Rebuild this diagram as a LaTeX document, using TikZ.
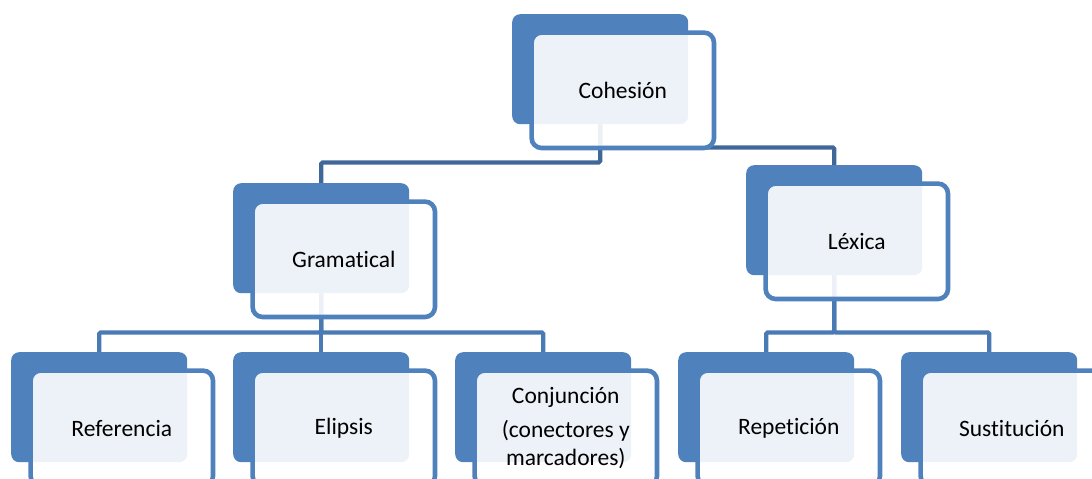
\documentclass[tikz,border=0pt]{standalone}
\usepackage{fontspec}
\setmainfont{Carlito}[Ligatures=NoCommon]
\usetikzlibrary{backgrounds}
\definecolor{accent}{HTML}{4F81BD}
\definecolor{conA}{HTML}{3F6899}
\definecolor{conB}{HTML}{4A7AB3}
\tikzset{
  backbox/.style={fill=accent, draw=none, rounded corners=8pt, minimum width=176pt,
    minimum height=110pt, anchor=north west, inner sep=0pt},
  frontbox/.style={fill=white, fill opacity=0.9, draw=accent, draw opacity=1,
    line width=4.6pt, rounded corners=10pt, minimum width=182.4pt,
    minimum height=115.4pt, anchor=north west, inner sep=0pt},
  lbl/.style={align=center, inner sep=0pt, font=\fontsize{23.5}{28}\selectfont},
  conn/.style={line width=4.2pt, rounded corners=1.5pt},
}
\newcommand\smartel[5]{%
  \node[backbox] (#1) at (#2,#3) {};
  \node[frontbox] (#1F) at (#2+17.3,#3+16.3) {};
  \node[lbl] (#1T) at ([xshift=#5]#1F.center) {#4};
}
\begin{document}
\begin{tikzpicture}[x=1pt,y=-1pt]
\useasboundingbox (0,0) rectangle (1092,479);
\smartel{coh}{512}{14}{Cohesión}{0pt}
\smartel{gram}{233}{183}{Gramatical}{0pt}
\smartel{lex}{746}{165}{Léxica}{0pt}
\smartel{ref}{11}{352}{Referencia}{0pt}
\smartel{elip}{233}{352}{Elipsis}{0pt}
\smartel{conj}{455}{352}{Conjunción\\[6pt](conectores y\\marcadores)}{0pt}
\smartel{rep}{678}{352}{Repetición}{0pt}
\smartel{sus}{901}{352}{Sustitución}{0pt}
\begin{scope}[on background layer]
  \draw[conn,conA] (coh.south) -- ++(0,38) -| (gram.north);
  \draw[conn,conA] (coh.south) -- ++(0,23) -| (lex.north);
  \draw[conn,conB] (gram.south) -- ++(0,39) -| (ref.north);
  \draw[conn,conB] (gram.south) -- (elip.north);
  \draw[conn,conB] (gram.south) -- ++(0,39) -| (conj.north);
  \draw[conn,conB] (lex.south) -- ++(0,57) -| (rep.north);
  \draw[conn,conB] (lex.south) -- ++(0,57) -| (sus.north);
\end{scope}
\end{tikzpicture}
\end{document}
